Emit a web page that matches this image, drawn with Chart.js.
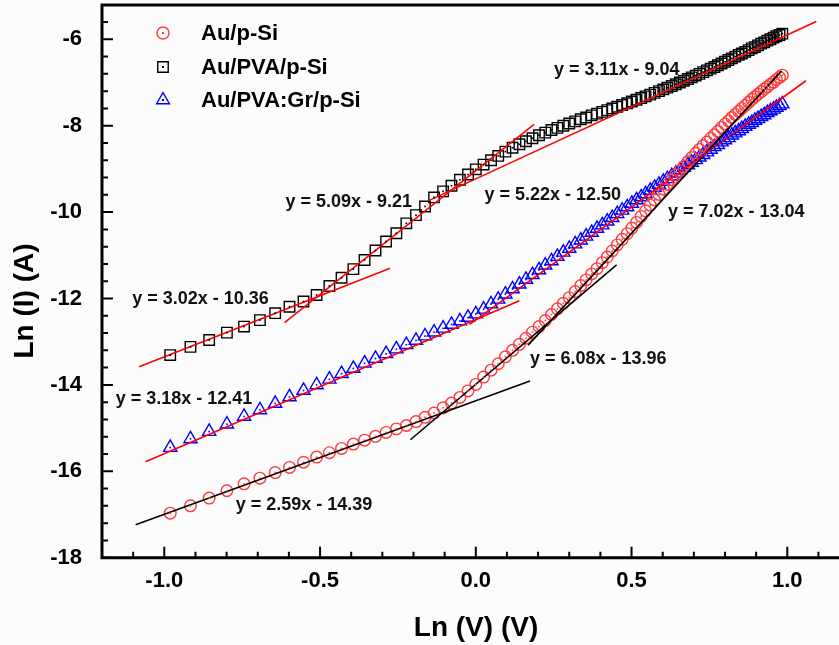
<!DOCTYPE html>
<html>
<head>
<meta charset="utf-8">
<script src="https://cdn.jsdelivr.net/npm/chart.js@4.4.1/dist/chart.umd.min.js"></script>
<style>
  html, body { margin: 0; padding: 0; background: #fcfcfc; }
  #wrap { width: 839px; height: 645px; }
</style>
</head>
<body>
<div id="wrap"><canvas id="lnIV" width="839" height="645"></canvas></div>
<script>
// ln(V) of each measured bias point, shared by all three diodes
const lnV = [-0.981,-0.916,-0.856,-0.799,-0.744,-0.693,-0.644,-0.598,-0.553,-0.511,
  -0.470,-0.431,-0.393,-0.357,-0.322,-0.288,-0.255,-0.223,-0.192,-0.163,
  -0.134,-0.105,-0.078,-0.051,-0.025,0.000,0.025,0.049,0.072,0.095,
  0.118,0.140,0.161,0.182,0.203,0.223,0.243,0.262,0.281,0.300,
  0.319,0.337,0.354,0.372,0.389,0.406,0.422,0.438,0.454,0.470,
  0.486,0.501,0.516,0.531,0.545,0.560,0.574,0.588,0.602,0.615,
  0.629,0.642,0.655,0.668,0.681,0.693,0.706,0.718,0.730,0.742,
  0.754,0.766,0.777,0.789,0.800,0.811,0.822,0.833,0.844,0.854,
  0.865,0.876,0.886,0.896,0.906,0.916,0.926,0.936,0.946,0.956,
  0.965,0.975,0.984];

// ln(I) for each sample
const auPSi = [-16.97,-16.80,-16.62,-16.45,-16.29,-16.16,-16.03,-15.91,-15.79,-15.67,
  -15.57,-15.47,-15.37,-15.28,-15.19,-15.10,-15.02,-14.94,-14.85,-14.75,
  -14.65,-14.53,-14.42,-14.29,-14.14,-13.99,-13.82,-13.66,-13.51,-13.35,
  -13.20,-13.06,-12.92,-12.78,-12.65,-12.51,-12.37,-12.24,-12.11,-11.98,
  -11.84,-11.70,-11.57,-11.43,-11.31,-11.17,-11.04,-10.90,-10.76,-10.63,
  -10.50,-10.37,-10.24,-10.10,-9.97,-9.84,-9.72,-9.59,-9.47,-9.36,
  -9.25,-9.14,-9.04,-8.94,-8.83,-8.74,-8.64,-8.55,-8.46,-8.38,
  -8.29,-8.21,-8.13,-8.04,-7.96,-7.89,-7.81,-7.74,-7.67,-7.60,
  -7.53,-7.46,-7.39,-7.33,-7.27,-7.21,-7.15,-7.10,-7.04,-6.99,
  -6.93,-6.88,-6.83];

const auPvaPSi = [-13.31,-13.12,-12.96,-12.79,-12.65,-12.50,-12.34,-12.19,-12.07,-11.92,
  -11.71,-11.52,-11.32,-11.11,-10.89,-10.68,-10.49,-10.26,-10.07,-9.87,
  -9.66,-9.52,-9.39,-9.25,-9.13,-9.01,-8.90,-8.80,-8.70,-8.60,
  -8.51,-8.43,-8.36,-8.29,-8.22,-8.16,-8.10,-8.05,-8.00,-7.95,
  -7.90,-7.85,-7.81,-7.76,-7.72,-7.68,-7.64,-7.60,-7.56,-7.52,
  -7.48,-7.44,-7.40,-7.36,-7.32,-7.28,-7.24,-7.20,-7.16,-7.12,
  -7.08,-7.04,-7.00,-6.96,-6.92,-6.88,-6.84,-6.80,-6.76,-6.72,
  -6.68,-6.64,-6.60,-6.56,-6.52,-6.48,-6.44,-6.40,-6.36,-6.33,
  -6.29,-6.25,-6.21,-6.18,-6.14,-6.10,-6.07,-6.03,-6.00,-5.96,
  -5.93,-5.90,-5.87];

const auPvaGrPSi = [-15.45,-15.25,-15.08,-14.91,-14.73,-14.58,-14.43,-14.28,-14.13,-14.00,
  -13.87,-13.74,-13.62,-13.50,-13.39,-13.28,-13.17,-13.07,-12.97,-12.87,
  -12.78,-12.69,-12.60,-12.52,-12.44,-12.36,-12.25,-12.13,-12.02,-11.90,
  -11.78,-11.67,-11.56,-11.45,-11.34,-11.23,-11.13,-11.03,-10.93,-10.84,
  -10.74,-10.65,-10.56,-10.47,-10.38,-10.30,-10.21,-10.13,-10.04,-9.96,
  -9.88,-9.80,-9.72,-9.65,-9.58,-9.50,-9.43,-9.36,-9.29,-9.23,
  -9.16,-9.10,-9.03,-8.97,-8.91,-8.85,-8.79,-8.73,-8.67,-8.61,
  -8.55,-8.49,-8.44,-8.38,-8.33,-8.28,-8.22,-8.17,-8.12,-8.07,
  -8.02,-7.97,-7.93,-7.88,-7.84,-7.79,-7.75,-7.70,-7.66,-7.62,
  -7.58,-7.54,-7.50];

const seriesNames = ['Au/p-Si', 'Au/PVA/p-Si', 'Au/PVA:Gr/p-Si'];

// linear fit segments: end points in (ln V, ln I)
const fitEq = ['y = 3.02x - 10.36', 'y = 5.09x - 9.21', 'y = 3.11x - 9.04', 'y = 3.18x - 12.41',
  'y = 5.22x - 12.50', 'y = 2.59x - 14.39', 'y = 6.08x - 13.96', 'y = 7.02x - 13.04'];
const fitX = [[-1.081, -0.275], [-0.614, 0.187], [-0.153, 1.093], [-1.06, 0.14],
  [-0.02, 1.06], [-1.092, 0.174], [-0.21, 0.452], [0.168, 0.982]];
const fitY = [[-13.58, -11.30], [-12.56, -7.97], [-9.74, -5.59], [-15.78, -12.05],
  [-12.60, -6.96], [-17.24, -13.91], [-15.27, -11.22], [-13.08, -6.73]];

const xTicks = [-1.0, -0.5, 0.0, 0.5, 1.0];
const yTicks = [-18, -16, -14, -12, -10, -8, -6];

// ---- styling / placement ----
const FONT = '"Liberation Sans", Arial, sans-serif';
const fitColor = ['#ff0000', '#ff0000', '#ff0000', '#ff0000', '#ff0000', '#000000', '#000000', '#000000'];
// where each equation text starts (data units)
const eqAt = [[-1.103, -12.01], [-0.611, -9.76], [0.251, -6.71], [-1.156, -14.33],
  [0.028, -9.60], [-0.771, -16.78], [0.174, -13.41], [0.617, -9.99]];
const markerStyle = [
  { pointStyle: 'circle', color: '#ff3c3c', radius: 5.8 },
  { pointStyle: 'rect', color: '#000000', radius: 7.4 },
  { pointStyle: 'triangle', color: '#0000ff', radius: 7.6 }
];
const xMinor = [-1.1, -0.9, -0.8, -0.7, -0.6, -0.4, -0.3, -0.2, -0.1, 0.1, 0.2, 0.3, 0.4, 0.6, 0.7, 0.8, 0.9, 1.1];
const yMinor = [-17.6, -17.2, -16.8, -16.4, -15.6, -15.2, -14.8, -14.4, -13.6, -13.2, -12.8, -12.4,
  -11.6, -11.2, -10.8, -10.4, -9.6, -9.2, -8.8, -8.4, -7.6, -7.2, -6.8, -6.4, -5.6];

function drawMarker(ctx, style, x, y, r, color, lw) {
  ctx.save();
  ctx.strokeStyle = color;
  ctx.lineWidth = lw;
  ctx.beginPath();
  if (style === 'circle') {
    ctx.arc(x, y, r, 0, Math.PI * 2);
  } else if (style === 'rect') {
    const s = r * Math.SQRT1_2;
    ctx.rect(x - s, y - s, 2 * s, 2 * s);
  } else {
    ctx.moveTo(x, y - r);
    ctx.lineTo(x + r * Math.sin(Math.PI / 3), y + r / 2);
    ctx.lineTo(x - r * Math.sin(Math.PI / 3), y + r / 2);
    ctx.closePath();
  }
  ctx.stroke();
  ctx.fillStyle = color;
  ctx.fillRect(x - 1, y - 1, 2, 2);
  ctx.restore();
}

const series = [auPSi, auPvaPSi, auPvaGrPSi];
const datasets = [];

fitX.forEach((xs, i) => {
  datasets.push({
    label: fitEq[i],
    isFit: true,
    data: [{ x: xs[0], y: fitY[i][0] }, { x: xs[1], y: fitY[i][1] }],
    showLine: true,
    borderColor: fitColor[i],
    borderWidth: 1.6,
    pointRadius: 0,
    order: 1
  });
});

series.forEach((ys, i) => {
  const m = markerStyle[i];
  datasets.push({
    label: seriesNames[i],
    data: lnV.map((v, k) => ({ x: v, y: ys[k] })),
    showLine: false,
    pointStyle: m.pointStyle,
    pointRadius: m.radius,
    pointBorderColor: m.color,
    pointBackgroundColor: 'rgba(0,0,0,0)',
    pointBorderWidth: 1.4,
    order: 2
  });
});

const background = {
  id: 'background',
  beforeDraw(chart) {
    const ctx = chart.ctx;
    ctx.save();
    ctx.fillStyle = '#fcfcfc';
    ctx.fillRect(0, 0, chart.width, chart.height);
    ctx.restore();
  }
};

// small centre dots like the original software draws
const centreDots = {
  id: 'centreDots',
  afterDatasetsDraw(chart) {
    const ctx = chart.ctx;
    const area = chart.chartArea;
    ctx.save();
    chart.data.datasets.forEach((ds, i) => {
      if (ds.isFit) return;
      ctx.fillStyle = ds.pointBorderColor;
      chart.getDatasetMeta(i).data.forEach(pt => {
        if (pt.x < area.left || pt.x > area.right) return;
        ctx.fillRect(pt.x - 0.8, pt.y - 0.8, 1.6, 1.6);
      });
    });
    ctx.restore();
  }
};

const frameAndText = {
  id: 'frameAndText',
  afterDraw(chart) {
    const ctx = chart.ctx;
    const { left, right, top, bottom } = chart.chartArea;
    const xs = chart.scales.x, ys = chart.scales.y;

    ctx.save();
    // equations
    ctx.fillStyle = '#111';
    ctx.font = 'bold 18px ' + FONT;
    ctx.textAlign = 'left';
    ctx.textBaseline = 'middle';
    fitEq.forEach((t, i) => {
      ctx.fillText(t, xs.getPixelForValue(eqAt[i][0]), ys.getPixelForValue(eqAt[i][1]));
    });

    // axes box
    ctx.strokeStyle = '#000';
    ctx.lineWidth = 3;
    ctx.beginPath();
    ctx.moveTo(left, bottom + 1.5);
    ctx.lineTo(left, top);
    ctx.lineTo(right + 5, top);
    ctx.moveTo(left, bottom);
    ctx.lineTo(right + 5, bottom);
    ctx.stroke();

    // inward ticks
    ctx.lineWidth = 2;
    ctx.beginPath();
    xTicks.forEach(v => { const p = xs.getPixelForValue(v); ctx.moveTo(p, bottom); ctx.lineTo(p, bottom - 11); });
    xMinor.forEach(v => { const p = xs.getPixelForValue(v); ctx.moveTo(p, bottom); ctx.lineTo(p, bottom - 6); });
    yTicks.forEach(v => { const p = ys.getPixelForValue(v); ctx.moveTo(left, p); ctx.lineTo(left + 11, p); });
    yMinor.forEach(v => { const p = ys.getPixelForValue(v); ctx.moveTo(left, p); ctx.lineTo(left + 6, p); });
    ctx.stroke();

    // axis titles
    ctx.fillStyle = '#000';
    ctx.font = 'bold 28px ' + FONT;
    ctx.textAlign = 'center';
    ctx.textBaseline = 'middle';
    ctx.fillText('Ln (V) (V)', 476, 628);
    ctx.save();
    ctx.translate(25, 301);
    ctx.rotate(-Math.PI / 2);
    ctx.fillText('Ln (I) (A)', 0, 0);
    ctx.restore();

    // legend
    ctx.font = 'bold 22px ' + FONT;
    ctx.textAlign = 'left';
    const rows = [34, 68, 101];
    seriesNames.forEach((name, i) => {
      const m = markerStyle[i];
      const r = m.pointStyle === 'circle' ? 6 : 7.4;
      drawMarker(ctx, m.pointStyle, 163, rows[i] - 1, r, m.color, 1.4);
      ctx.fillStyle = '#000';
      ctx.fillText(name, 201, rows[i]);
    });
    ctx.restore();
  }
};

new Chart(document.getElementById('lnIV'), {
  type: 'scatter',
  data: { datasets },
  options: {
    responsive: false,
    animation: false,
    devicePixelRatio: 1,
    layout: { autoPadding: false, padding: { top: 5, right: 0, left: 0, bottom: 0 } },
    plugins: { legend: { display: false }, tooltip: { enabled: false } },
    scales: {
      x: {
        type: 'linear',
        min: -1.2,
        max: 1.166,
        grid: { display: false },
        border: { display: false },
        afterBuildTicks: s => { s.ticks = xTicks.map(v => ({ value: v })); },
        afterFit: s => { s.height = 87.3; s.paddingLeft = 0; s.paddingRight = 0; },
        ticks: {
          color: '#000',
          padding: 2,
          maxRotation: 0,
          font: { family: FONT, size: 22, weight: 'bold' },
          callback: v => Number(v).toFixed(1)
        }
      },
      y: {
        type: 'linear',
        min: -18,
        max: -5.206,
        grid: { display: false },
        border: { display: false },
        afterBuildTicks: s => { s.ticks = yTicks.map(v => ({ value: v })); },
        afterFit: s => { s.width = 102; s.paddingTop = 0; s.paddingBottom = 0; },
        ticks: {
          color: '#000',
          padding: 12,
          font: { family: FONT, size: 22, weight: 'bold' },
          callback: v => String(v)
        }
      }
    }
  },
  plugins: [background, centreDots, frameAndText]
});
</script>
</body>
</html>
